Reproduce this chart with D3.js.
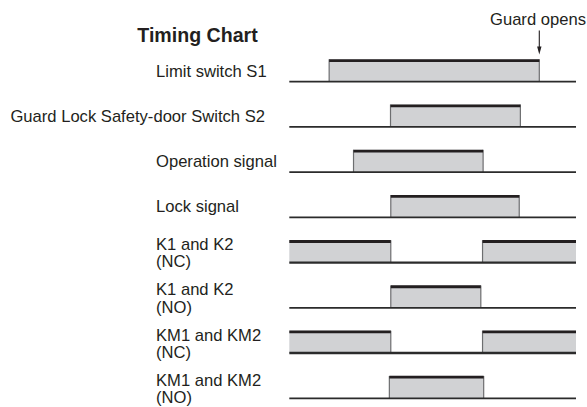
<!DOCTYPE html>
<html>
<head>
<meta charset="utf-8">
<script src="https://cdn.jsdelivr.net/npm/d3@7"></script>
<style>
  html, body { margin: 0; padding: 0; background: #fff; }
  svg { display: block; }
  text { font-family: "Liberation Sans", Arial, Helvetica, sans-serif; fill: #231f20; }
</style>
</head>
<body>
<svg id="chart" width="587" height="407"></svg>
<script>
// ---- data ----
const title = "Timing Chart";
const rowLabels = [
  ["Limit switch S1"],
  ["Guard Lock Safety-door Switch S2"],
  ["Operation signal"],
  ["Lock signal"],
  ["K1 and K2", "(NC)"],
  ["K1 and K2", "(NO)"],
  ["KM1 and KM2", "(NC)"],
  ["KM1 and KM2", "(NO)"]
];
const contactTypes = ["", "", "", "", "NC", "NO", "NC", "NO"];
// ON intervals on a 0..100 time axis
const onIntervals = [
  [[13.9, 87.2]],
  [[35.3, 80.6]],
  [[22.4, 67.6]],
  [[35.4, 80.2]],
  [[0, 35.4], [67.4, 100]],
  [[35.4, 66.8]],
  [[0, 35.4], [67.4, 100]],
  [[34.9, 67.8]]
];
const eventLabel = "Guard opens";
const eventTime = 87.2;

// ---- layout ----
const svg = d3.select("#chart");
const x = d3.scaleLinear().domain([0, 100]).range([289.3, 576]);
const y = d3.scaleLinear().domain([0, rowLabels.length - 1]).range([81.7, 398.3]);
const rowH = 22.4;
const fillC = "#d1d2d4", darkC = "#231f20", edgeC = "#6d6e70";

svg.append("text")
  .attr("x", 137.3).attr("y", 41.7)
  .attr("font-size", 19.6).attr("font-weight", "bold")
  .text(title);

rowLabels.forEach((lines, i) => {
  const base = y(i);
  const g = svg.append("g");
  if (lines.length === 1) {
    const isLong = lines[0].length > 20;
    g.append("text")
      .attr("x", isLong ? 265 : 156)
      .attr("text-anchor", isLong ? "end" : "start")
      .attr("y", base - 5)
      .attr("font-size", 16.6)
      .text(lines[0]);
  } else {
    lines.forEach((t, j) => {
      g.append("text")
        .attr("x", 156)
        .attr("y", base - 12.5 + j * 17.3)
        .attr("font-size", 16.6)
        .text(t);
    });
  }

  // fills
  onIntervals[i].forEach(([a, b]) => {
    g.append("rect")
      .attr("x", x(a)).attr("y", base - rowH)
      .attr("width", x(b) - x(a)).attr("height", rowH)
      .attr("fill", fillC);
    // vertical edges (not at chart borders)
    [a, b].forEach(t => {
      if (t > 0 && t < 100) {
        g.append("line")
          .attr("x1", x(t)).attr("x2", x(t))
          .attr("y1", base - rowH).attr("y2", base)
          .attr("stroke", edgeC).attr("stroke-width", 1.2);
      }
    });
  });

  // baseline
  g.append("line")
    .attr("x1", x(0)).attr("x2", x(100))
    .attr("y1", base).attr("y2", base)
    .attr("stroke", "#2b2b2b")
    .attr("stroke-width", contactTypes[i] === "NC" ? 2.4 : 1.7);

  // top thick line
  onIntervals[i].forEach(([a, b]) => {
    g.append("line")
      .attr("x1", x(a)).attr("x2", x(b))
      .attr("y1", base - rowH + 1.3).attr("y2", base - rowH + 1.3)
      .attr("stroke", darkC).attr("stroke-width", 2.8);
  });
});

// event arrow
const ex = x(eventTime);
svg.append("text")
  .attr("x", 490).attr("y", 25)
  .attr("font-size", 16.6)
  .text(eventLabel);
svg.append("line")
  .attr("x1", ex).attr("x2", ex)
  .attr("y1", 30.5).attr("y2", 48)
  .attr("stroke", darkC).attr("stroke-width", 1.1);
svg.append("path")
  .attr("d", `M${ex - 2.2},46.5 L${ex + 2.2},46.5 L${ex},54.5 Z`)
  .attr("fill", darkC);
</script>
</body>
</html>
